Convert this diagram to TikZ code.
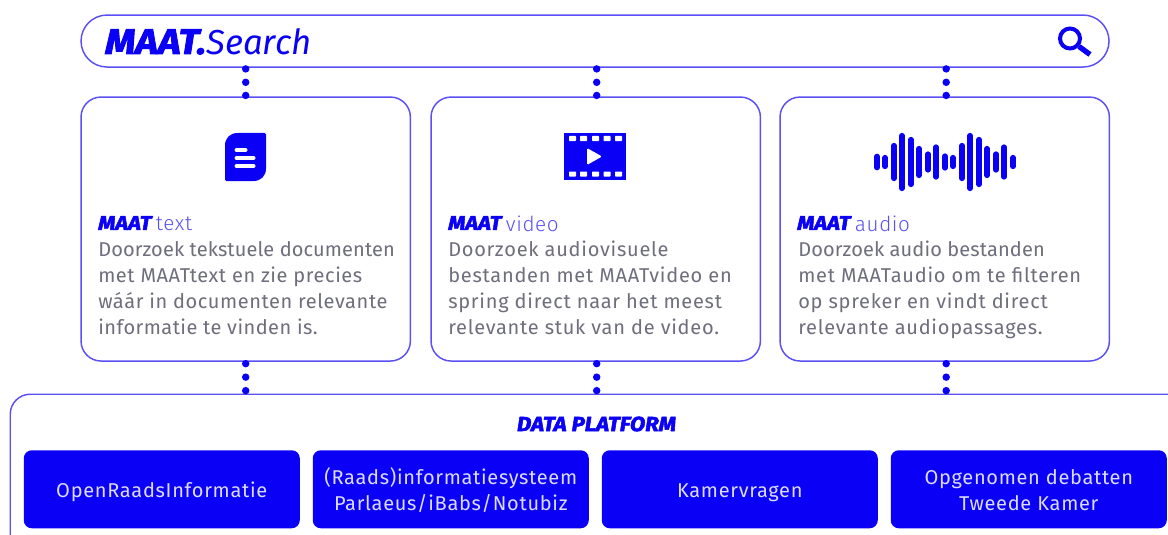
\documentclass[tikz,border=0pt]{standalone}
\usepackage{fontspec}
\setmainfont{Fira Sans}
\newfontfamily\maatfont[FakeBold=2.6,FakeStretch=1.1]{Fira Sans Bold Italic}
\newfontfamily\bodyfont[LetterSpace=2.9]{Fira Sans}
\newfontfamily\tightfont[LetterSpace=0.6]{Fira Sans}
\newfontfamily\midfont[LetterSpace=2.3]{Fira Sans}
\newfontfamily\widefont[LetterSpace=3.7]{Fira Sans}
\newfontfamily\srcfont[LetterSpace=3.5]{Fira Sans}
\newfontfamily\titlefont[LetterSpace=3]{Fira Sans Light}
\usetikzlibrary{calc}
\definecolor{mblue}{HTML}{0A00F5}
\definecolor{mline}{HTML}{5A50F5}
\definecolor{mtext}{HTML}{6E6E7C}
\definecolor{mlabel}{HTML}{5A50F0}
\definecolor{mpale}{HTML}{DCDCFF}
\tikzset{
  frame/.style={draw=mline,line width=1.1pt,fill=white,rounded corners=15pt,inner sep=0pt,anchor=north west},
  cardbox/.style={frame,minimum width=247pt,minimum height=198pt},
  srcbox/.style={fill=mblue,text=mpale,rounded corners=6pt,minimum width=207pt,minimum height=58.5pt,inner sep=0pt,anchor=north west,font=\srcfont\fontsize{15}{19.5}\selectfont,align=center},
  dotnode/.style={circle,fill=mblue,inner sep=0pt,minimum size=5.6pt},
  dotlink/.style={draw=none},
  title/.style={anchor=west,inner sep=0pt,text=mlabel,font=\titlefont\fontsize{15.5}{18}\selectfont},
  maatlabel/.style={anchor=west,inner sep=0pt,text=mblue,font=\maatfont\fontsize{15}{15}\selectfont},
  body/.style={anchor=north west,inner sep=0pt,text=mtext,align=left,font=\bodyfont\fontsize{15}{19.5}\selectfont},
  wave/.style={draw=mblue,line width=3.9pt,line cap=round},
}
% #3 = sideways shift in px; #4,#5,#6 = positions of the three dots along the link
\newcommand{\threedots}[6]{\path[dotlink] ($(#1)+(#3,0)$) -- ($(#2)+(#3,0)$) node[pos=#4,dotnode]{} node[pos=#5,dotnode]{} node[pos=#6,dotnode]{};}
\newcommand{\lowline}[1]{\raisebox{-5.8pt}[0pt][0pt]{#1}}
\begin{document}
\begin{tikzpicture}[x=0.75pt,y=-0.75pt]
\useasboundingbox (0,0) rectangle (1168,535);
\clip (0,0) rectangle (1168,535);
% frames
\node[frame,rounded corners=19.5pt,minimum width=771pt,minimum height=39pt] (search) at (80.3,14.3) {};
\node[cardbox] (c1) at (80.3,96.3) {};
\node[cardbox] (c2) at (430.3,96.3) {};
\node[cardbox] (c3) at (779.3,96.3) {};
\node[frame,minimum width=1000pt,minimum height=200pt] (platform) at (9.5,393.5) {};
% search bar content
\node[anchor=west,inner sep=0pt,text=mblue] (logo) at (105,42) {\maatfont\fontsize{26.5}{26.5}\selectfont MAAT.};
\node[anchor=west,inner sep=0pt,text=mblue,font=\itshape\fontsize{26}{26}\selectfont] (searchword) at (logo.east) {Search};
\coordinate (lenscentre) at (1070,38.5);
\draw[mblue,line width=3pt] (lenscentre) circle (10);
\draw[mblue,line width=4pt] (1079,46.5) -- (1090,54.5);
% connectors
\threedots{c1.north |- search.south}{c1.north}{0}{.04}{.51}{.97}
\threedots{c2.north |- search.south}{c2.north}{1}{.04}{.51}{.97}
\threedots{c3.north |- search.south}{c3.north}{1.5}{.04}{.51}{.97}
\threedots{c1.south}{c1.south |- platform.north}{0}{.06}{.485}{.91}
\threedots{c2.south}{c2.south |- platform.north}{1}{.06}{.485}{.91}
\threedots{c3.south}{c3.south |- platform.north}{1.5}{.06}{.485}{.91}
% text icon
\fill[mblue,rounded corners=1pt] (225,181) -- (225,147) .. controls (225,138) and (230,133) .. (239,133) -- (266,133) -- (266,167) .. controls (266,176) and (261,181) .. (252,181) -- cycle;
\draw[white,line width=3pt,line cap=round] (236.5,150) -- (245.5,150) (236.5,158) -- (253.5,158) (236.5,166) -- (253.5,166);
% video icon
\fill[mblue] (564,133) rectangle (626,180);
\foreach \x in {569,580,592,603.5,615}{
  \fill[white,rounded corners=.5pt] (\x,136) rectangle ++(7,5);
  \fill[white,rounded corners=.5pt] (\x,171.5) rectangle ++(7,5);
}
\fill[white,rounded corners=1pt] (587,148) -- (602,156.5) -- (587,165) -- cycle;
% audio icon
\foreach \x/\h in {877/5.7,885/4.5,894/16.5,902/26.5,911/22.5,919/13.5,928/8,936/15,945/6,953/4.5,962/16.5,970/26.5,979/22.5,987/13.5,996/8,1004/15,1013/4.5}{
  \draw[wave] (\x,162-\h) -- (\x,162+\h);
}
% card texts
\node[maatlabel] (m1) at (98,223) {MAAT};
\node[title] (t1) at ($(m1.east)+(4,0.5)$) {text};
\node[body] (b1) at (98,241) {{\tightfont Doorzoek tekstuele documenten}\\met MAATtext en zie precies\\wáár in documenten relevante\\{\midfont informatie te vinden is.}};
\node[maatlabel] (m2) at (448,223) {MAAT};
\node[title] (t2) at ($(m2.east)+(4,0.5)$) {video};
\node[body,font=\widefont\fontsize{15}{19.5}\selectfont] (b2) at (448,241) {Doorzoek audiovisuele\\bestanden met MAATvideo en\\spring direct naar het meest\\relevante stuk van de video.};
\node[maatlabel] (m3) at (797,223) {MAAT};
\node[title] (t3) at ($(m3.east)+(4,0.5)$) {audio};
\node[body,font=\widefont\fontsize{15}{19.5}\selectfont] (b3) at (798,241) {{\tightfont Doorzoek audio bestanden}\\met MAATaudio om te filteren\\op spreker en vindt direct\\relevante audiopassages.};
% platform
\node[inner sep=0pt,text=mblue,font=\maatfont\fontsize{15.2}{15}\selectfont] (dp) at (596.5,424) {DATA PLATFORM};
\node[srcbox] (s1) at (23.5,450) {\lowline{OpenRaadsInformatie}};
\node[srcbox] (s2) at (312.5,450) {\lowline{(Raads)informatiesysteem}\\\lowline{Parlaeus/iBabs/Notubiz}};
\node[srcbox] (s3) at (601.5,450) {\lowline{Kamervragen}};
\node[srcbox] (s4) at (890.5,450) {\lowline{Opgenomen debatten}\\\lowline{Tweede Kamer}};
\end{tikzpicture}
\end{document}
